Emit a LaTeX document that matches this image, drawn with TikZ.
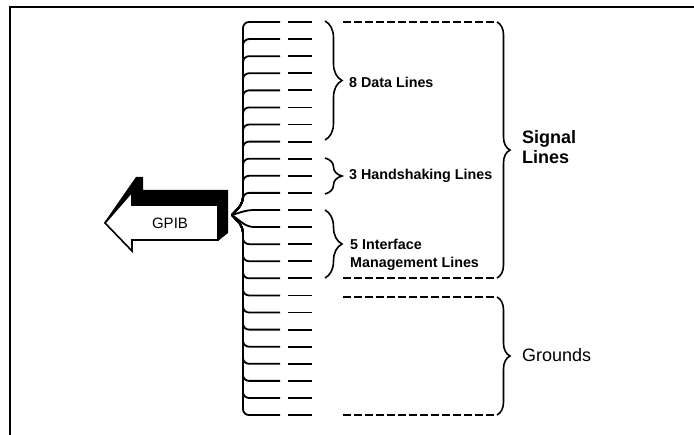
\documentclass[tikz,border=0pt]{standalone}
\usepackage{fontspec}
\setmainfont{Liberation Sans}
\usetikzlibrary{decorations.pathreplacing}

\begin{document}
\begin{tikzpicture}[x=1pt, y=-1pt,
    wire/.style={line width=1.8pt, rounded corners=6pt},
    stub/.style={line width=1.8pt},
    bracket/.style={line width=1.6pt, decorate, decoration={brace, amplitude=#1}},
    bracket/.default=17pt,
    guide/.style={line width=1.6pt, dash pattern=on 8pt off 3pt},
    small/.style={anchor=west, align=left, font=\fontsize{14.3}{18}\selectfont\bfseries, inner sep=0pt},
    big/.style={anchor=west, align=left, inner sep=0pt}
]
\useasboundingbox (0,0) rectangle (694,435);

% Cadre
\draw[line width=2pt] (10,435) -- (10,7) -- (694,7);

% Fleche GPIB
\fill (104,223) -- (136,177) -- (143,177) -- (143,190) -- (228,190) -- (228,233) -- (218,241) -- cycle;
\draw[line width=1.6pt, fill=white] (105,223) -- (132,192) -- (132,205) -- (218,205) -- (218,240) -- (132,240) -- (132,251) -- cycle;
\node[font=\fontsize{15}{15}\selectfont] (gpib) at (170,223) {GPIB};
\coordinate (tip) at (232,215);

% Lignes du bus
\foreach \i in {1,...,24} {
    \pgfmathsetmacro\y{22+(\i-1)*17.09}
    \pgfmathsetmacro\d{abs(\y-215)}
    \pgfmathsetmacro\k{215+max(-12,min(12,\y-215))}
    \coordinate (w\i) at (280,\y);
    \coordinate (s\i) at (288,\y);
    \coordinate (e\i) at (312,\y);
    \ifdim\d pt<14pt
        \draw[wire] (tip) -- (248,\y) -- (w\i);
    \else
        \draw[wire] (tip) -- (243,\k) -- (243,\y) -- (w\i);
    \fi
    \draw[stub] (s\i) -- (e\i);
}

% Accolades des groupes
\draw[bracket] (325,21) -- (325,140);
\node[small] (data) at (349,82) {8 Data Lines};
\draw[bracket] (325,158) -- (325,194);
\node[small] (hand) at (349,176) {3 Handshaking Lines};
\draw[bracket] (325,210) -- (325,278);
\node[small] (mgmt) at (350,255) {5 Interface\\Management Lines};

% Lignes de signal
\draw[guide] (343,22) -- (497,22);
\draw[guide] (343,278) -- (497,278);
\draw[bracket=13pt] (497,22) -- (497,278);
\node[big, font=\fontsize{18}{20}\selectfont\bfseries] (signal) at (522,147) {Signal\\Lines};

% Masses
\draw[guide] (343,297) -- (497,297);
\draw[guide] (343,415) -- (497,415);
\draw[bracket=13pt] (497,297) -- (497,415);
\node[big, font=\fontsize{18}{20}\selectfont] (grounds) at (522,355) {Grounds};

\end{tikzpicture}
\end{document}
